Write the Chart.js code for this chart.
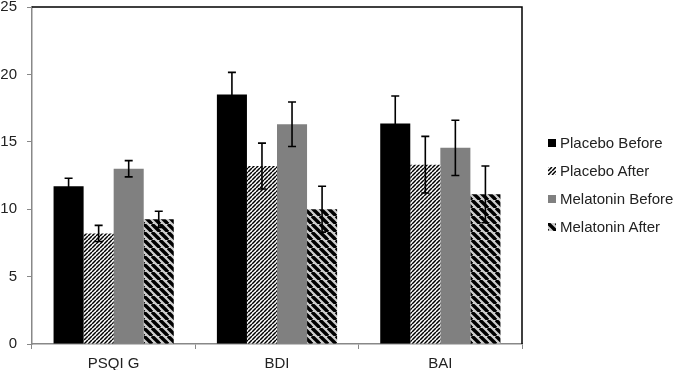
<!DOCTYPE html>
<html>
<head>
<meta charset="utf-8">
<script src="https://cdn.jsdelivr.net/npm/chart.js@4/dist/chart.umd.min.js"></script>
<style>
  html, body { margin: 0; padding: 0; background: #fff; }
  #wrap { position: relative; width: 685px; height: 370px; }
  #legend { position: absolute; left: 548px; top: 129px; font-family: "Liberation Sans", Arial, sans-serif; font-size: 15px; color: #222; }
  #legend .item { height: 28px; line-height: 20px; display: flex; align-items: center; white-space: nowrap; }
  #legend .sw { width: 8px; height: 8px; margin-right: 4px; display: inline-block; }
</style>
</head>
<body>
<div id="wrap">
  <canvas id="c" width="685" height="370"></canvas>
  <div id="legend"></div>
</div>
<script>
const categories = ["PSQI G", "BDI", "BAI"];
const seriesNames = ["Placebo Before", "Placebo After", "Melatonin Before", "Melatonin After"];
const placeboBefore = [11.7, 18.5, 16.35];
const placeboAfter = [8.2, 13.2, 13.3];
const melatoninBefore = [13.0, 16.3, 14.55];
const melatoninAfter = [9.25, 10.0, 11.1];
const placeboBeforeErr = [0.6, 1.65, 2.05];
const placeboAfterErr = [0.6, 1.7, 2.1];
const melatoninBeforeErr = [0.6, 1.65, 2.05];
const melatoninAfterErr = [0.6, 1.7, 2.1];
const yTicks = [0, 5, 10, 15, 20, 25];

function stripeCanvas(p, w, fg, bg, dir) {
  const cv = document.createElement('canvas');
  cv.width = p; cv.height = p;
  const g = cv.getContext('2d');
  g.fillStyle = bg; g.fillRect(0, 0, p, p);
  g.strokeStyle = fg; g.lineWidth = w;
  for (let k = -1; k <= 1; k++) {
    g.beginPath();
    if (dir === '/') { g.moveTo(k * p, p); g.lineTo(k * p + p, 0); }
    else { g.moveTo(k * p, 0); g.lineTo(k * p + p, p); }
    g.stroke();
  }
  return cv;
}
const ctx = document.getElementById('c').getContext('2d');
const paCanvas = stripeCanvas(4, 1.5, '#000', '#fff', '/');
const maCanvas = stripeCanvas(8, 3.4, '#000', '#cfcfcf', '\\');
const fills = ['#000000', ctx.createPattern(paCanvas, 'repeat'), '#808080', ctx.createPattern(maCanvas, 'repeat')];
const swatchCss = ['#000', 'url(' + paCanvas.toDataURL() + ')', '#808080', 'url(' + maCanvas.toDataURL() + ')'];

const values = [placeboBefore, placeboAfter, melatoninBefore, melatoninAfter];
const errors = [placeboBeforeErr, placeboAfterErr, melatoninBeforeErr, melatoninAfterErr];

const errorBars = {
  id: 'errorBars',
  afterDatasetsDraw(chart) {
    const c = chart.ctx, y = chart.scales.y;
    c.save();
    c.strokeStyle = '#000'; c.lineWidth = 1.6;
    chart.data.datasets.forEach((ds, di) => {
      chart.getDatasetMeta(di).data.forEach((el, i) => {
        const v = values[di][i], e = errors[di][i];
        const t = y.getPixelForValue(v + e), b = y.getPixelForValue(v - e);
        c.beginPath();
        c.moveTo(el.x, t); c.lineTo(el.x, b);
        c.moveTo(el.x - 4, t); c.lineTo(el.x + 4, t);
        c.moveTo(el.x - 4, b); c.lineTo(el.x + 4, b);
        c.stroke();
      });
    });
    c.restore();
  }
};
const frame = {
  id: 'frame',
  afterDraw(chart) {
    const a = chart.chartArea, c = chart.ctx;
    c.save();
    c.strokeStyle = '#000'; c.lineWidth = 1.5;
    c.beginPath();
    c.moveTo(a.left, a.top); c.lineTo(a.right, a.top); c.lineTo(a.right, a.bottom);
    c.stroke();
    c.restore();
  }
};

new Chart(ctx, {
  type: 'bar',
  data: {
    labels: categories,
    datasets: seriesNames.map((n, i) => ({
      label: n, data: values[i], backgroundColor: fills[i], borderWidth: 0,
      barPercentage: 1.0, categoryPercentage: 0.736
    }))
  },
  options: {
    responsive: false, animation: false,
    layout: { padding: { left: 0, right: 163, top: 7, bottom: 0 } },
    plugins: { legend: { display: false }, tooltip: { enabled: false } },
    scales: {
      x: {
        afterFit(s) { s.height = 26; s.paddingLeft = 0; s.paddingRight = 0; },
        grid: { offset: true, drawOnChartArea: false, drawTicks: true, tickLength: 5, color: '#888', lineWidth: 1 },
        border: { color: '#888', width: 1.5 },
        ticks: { color: '#222', font: { family: '"Liberation Sans", Arial, sans-serif', size: 15 }, padding: 6 }
      },
      y: {
        min: 0, max: 25,
        afterBuildTicks(s) { s.ticks = yTicks.map(v => ({ value: v })); },
        afterFit(s) { s.width = 32; s.paddingTop = 0; s.paddingBottom = 0; },
        grid: { drawOnChartArea: false, drawTicks: true, tickLength: 5, color: '#888', lineWidth: 1 },
        border: { color: '#888', width: 1.5 },
        ticks: { color: '#222', font: { family: '"Liberation Sans", Arial, sans-serif', size: 15 }, padding: 10 }
      }
    }
  },
  plugins: [errorBars, frame]
});

const lg = document.getElementById('legend');
seriesNames.forEach((n, i) => {
  const d = document.createElement('div'); d.className = 'item';
  const s = document.createElement('span'); s.className = 'sw'; s.style.background = swatchCss[i];
  d.appendChild(s); d.appendChild(document.createTextNode(n));
  lg.appendChild(d);
});
</script>
</body>
</html>
